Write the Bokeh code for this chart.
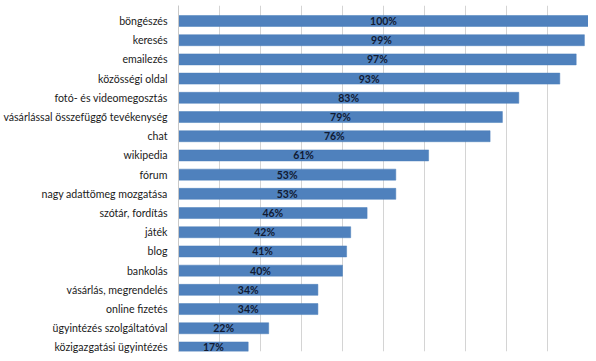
from bokeh.plotting import figure
from bokeh.models import Range1d, ColumnDataSource, FixedTicker
from bokeh.core.properties import value
from bokeh.embed import file_html
from bokeh.resources import INLINE

categories = ["böngészés", "keresés", "emailezés", "közösségi oldal",
              "fotó- és videomegosztás", "vásárlással összefüggő tevékenység",
              "chat", "wikipedia", "fórum", "nagy adattömeg mozgatása",
              "szótár, fordítás", "játék", "blog", "bankolás",
              "vásárlás, megrendelés", "online fizetés",
              "ügyintézés szolgáltatóval", "közigazgatási ügyintézés"]
values = [100, 99, 97, 93, 83, 79, 76, 61, 53, 53, 46, 42, 41, 40, 34, 34, 22, 17]
labels = [f"{v}%" for v in values]
grid_ticks = list(range(0, 101, 10))

n = len(categories)
idx = list(range(n))
src = ColumnDataSource(dict(y=idx, v=values, half=[v / 2 for v in values], lab=labels))

p = figure(width=588, height=353, output_backend="svg", toolbar_location=None,
           x_range=Range1d(0, 100), y_range=Range1d(n - 1 + 0.21, -0.807),
           min_border_left=178, min_border_right=0, min_border_top=5, min_border_bottom=2)
p.outline_line_color = None
p.background_fill_color = "white"

p.hbar(y="y", left=0, right="v", height=0.573, source=src,
       fill_color="#4F81BD", line_color="#4A7EBB", line_width=0.5)
p.text(x="half", y="y", text="lab", source=src, text_align="center",
       text_baseline="middle", text_font=value("Lato"), text_font_style="bold",
       text_font_size="10.5px", text_color="#0F1A33")

p.xaxis.visible = False
p.xgrid.ticker = FixedTicker(ticks=grid_ticks)
p.xgrid.grid_line_color = "#D4D4D4"
p.xgrid.grid_line_width = 1
p.ygrid.grid_line_color = None

p.yaxis.ticker = FixedTicker(ticks=idx)
p.yaxis.major_label_overrides = {i: c for i, c in enumerate(categories)}
p.yaxis.axis_line_color = "#C8C8C8"
p.yaxis.major_tick_line_color = None
p.yaxis.minor_tick_line_color = None
p.yaxis.major_tick_out = 0
p.yaxis.major_label_standoff = 11
p.yaxis.major_label_text_font = "Lato"
p.yaxis.major_label_text_font_size = "10.6px"
p.yaxis.major_label_text_color = "#1A1A1A"

open("out.html", "w").write(file_html(p, INLINE))
